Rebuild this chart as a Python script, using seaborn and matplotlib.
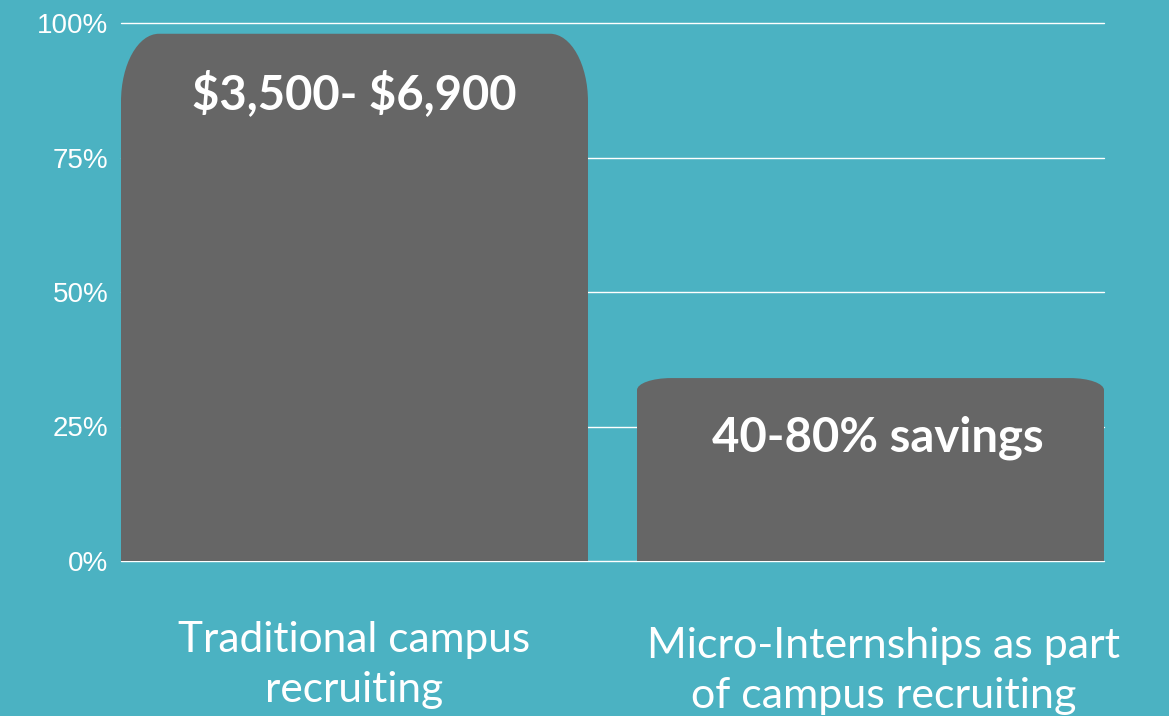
import matplotlib
matplotlib.use("Agg")
import matplotlib.pyplot as plt
import matplotlib.transforms as mtransforms
import seaborn as sns
import pandas as pd
from matplotlib.path import Path
from matplotlib.patches import PathPatch
from matplotlib.ticker import PercentFormatter

# Chart data
categories = ["Traditional campus\nrecruiting", "Micro-Internships as part\nof campus recruiting"]
share = [0.98, 0.34]
bar_labels = ["$3,500- $6,900", "40-80% savings"]
y_ticks = [0, 0.25, 0.5, 0.75, 1.0]

BG = "#4BB2C2"
BAR = "#666666"

sns.set_theme(style="white")
plt.rcParams["font.family"] = ["Liberation Sans", "DejaVu Sans"]

df = pd.DataFrame({"category": categories, "share": share})

fig = plt.figure(figsize=(11.69, 7.16), dpi=100, facecolor=BG)
ax = fig.add_axes([121 / 1169, 155 / 716, 983 / 1169, 538 / 716])
ax.set_facecolor(BG)

sns.barplot(data=df, x="category", y="share", color=BAR, width=0.905,
            saturation=1, ax=ax, zorder=3)

ax.set_xlim(-0.4525, 1.4525)
ax.set_ylim(0, 1.0)


# swap the plain rectangles for ones with rounded top corners
def rounded_top(x0, w, h, rx, ry):
    k = 0.5523
    x1 = x0 + w
    verts = [
        (x0, 0), (x0, h - ry),
        (x0, h - ry + k * ry), (x0 + rx - k * rx, h), (x0 + rx, h),
        (x1 - rx, h),
        (x1 - rx + k * rx, h), (x1, h - ry + k * ry), (x1, h - ry),
        (x1, 0), (x0, 0),
    ]
    codes = [Path.MOVETO, Path.LINETO,
             Path.CURVE4, Path.CURVE4, Path.CURVE4,
             Path.LINETO,
             Path.CURVE4, Path.CURVE4, Path.CURVE4,
             Path.LINETO, Path.CLOSEPOLY]
    return Path(verts, codes)


corner_px = [(38, 68), (34, 12)]
text_shift = [0, 7]
px_x = 983 / 1.905
px_y = 538 / 1.0
for bar, (cx, cy), dx, txt in zip(list(ax.patches), corner_px, text_shift, bar_labels):
    x0, w, h = bar.get_x(), bar.get_width(), bar.get_height()
    bar.remove()
    ax.add_patch(PathPatch(rounded_top(x0, w, h, cx / px_x, cy / px_y),
                           facecolor=BAR, edgecolor="none", zorder=3))
    ax.text(x0 + w / 2 + dx / px_x, h - 60 / px_y, txt, ha="center", va="center",
            color="white", fontsize=34, fontweight="bold", family="Lato",
            parse_math=False, zorder=4)

ax.set_yticks(y_ticks)
ax.yaxis.set_major_formatter(PercentFormatter(1.0, decimals=0))
ax.grid(axis="y", color="white", linewidth=1, zorder=0)
ax.set_axisbelow(True)
for gl in ax.get_ygridlines():
    gl.set_clip_on(False)
for s in ax.spines.values():
    s.set_visible(False)

ax.tick_params(axis="y", length=0, pad=9, labelsize=20, labelcolor="white")
ax.tick_params(axis="x", length=0, pad=43)
ax.set_xticks(range(len(categories)))
ax.set_xticklabels(categories, fontsize=30.5, color="white", family="Lato",
                   linespacing=1.4, va="top")
ax.set_xlabel("")
ax.set_ylabel("")

# second category label sits a little right and lower in the original
lab2 = ax.get_xticklabels()[1]
lab2.set_fontsize(31)
lab2.set_transform(lab2.get_transform() +
                   mtransforms.ScaledTranslation(13 / 100, -6 / 100, fig.dpi_scale_trans))

fig.savefig("out.png", dpi=100, facecolor=BG)
